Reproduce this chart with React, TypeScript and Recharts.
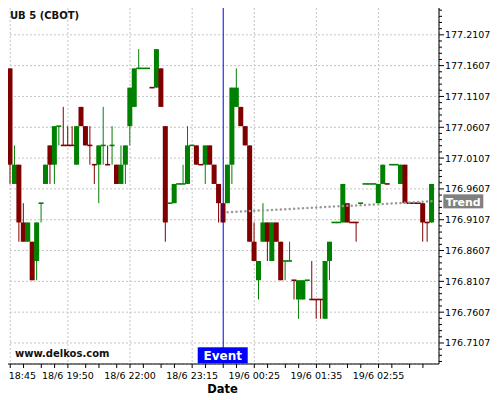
import React from 'react';
import { ComposedChart, Bar, Line, XAxis, YAxis, CartesianGrid, ReferenceLine } from 'recharts';

const opens = [
  177.15625, 176.96875, 177, 176.90625, 176.875, 176.875, 176.84375, 176.9375, 176.96875, 177.03125,
  177, 177.0625, 177.03125, 177.03125, 177.03125, 177, 177.09375, 177.0625, 177.03125, 177,
  177, 177.03125, 177, 177.03125, 177, 176.96875, 177, 177.0625, 177.09375, 177.15625,
  177.15625, 177.15625, 177.125, 177.125, 177.15625, 177.0625, 176.9375, 176.9375, 176.96875, 176.96875,
  176.96875, 177.03125, 177.03125, 177, 177, 177.03125, 177, 176.96875, 176.9375, 176.9375,
  177, 177.09375, 177.09375, 177.0625, 177.03125, 176.875, 176.8125, 176.875, 176.90625, 176.84375,
  176.90625, 176.875, 176.84375, 176.84375, 176.8125, 176.78125, 176.78125, 176.8125, 176.78125, 176.78125,
  176.78125, 176.75, 176.84375, 176.90625, 176.90625, 176.90625, 176.9375, 176.90625, 176.90625, 176.9375,
  176.96875, 176.96875, 176.96875, 176.9375, 176.96875, 176.96875, 177, 177, 176.96875, 177,
  176.9375, 176.9375, 176.9375, 176.9375, 176.90625, 176.90625,
];

const highs = [
  177.15625, 177.03125, 177, 176.9375, 176.90625, 176.875, 176.90625, 176.9375, 177, 177.03125,
  177.0625, 177.0625, 177.09375, 177.0625, 177.0625, 177.0625, 177.09375, 177.0625, 177.0625, 177,
  177.03125, 177.09375, 177.03125, 177.0625, 177, 177.03125, 177.03125, 177.125, 177.15625, 177.1875,
  177.15625, 177.15625, 177.125, 177.1875, 177.15625, 177.0625, 176.9375, 176.96875, 176.96875, 177,
  177.0625, 177.03125, 177.03125, 177, 177.03125, 177.03125, 177, 176.96875, 176.9375, 177,
  177.125, 177.15625, 177.09375, 177.0625, 177.03125, 176.90625, 176.84375, 176.9375, 176.90625, 176.90625,
  176.90625, 176.875, 176.84375, 176.875, 176.8125, 176.8125, 176.8125, 176.8125, 176.84375, 176.78125,
  176.78125, 176.84375, 176.875, 176.90625, 176.90625, 176.96875, 176.9375, 176.90625, 176.90625, 176.9375,
  176.96875, 176.96875, 176.96875, 176.96875, 177, 176.96875, 177, 177, 177, 177,
  176.9375, 176.9375, 176.9375, 176.9375, 176.90625, 176.96875,
];

const lows = [
  176.96875, 176.96875, 176.875, 176.875, 176.875, 176.8125, 176.8125, 176.90625, 176.96875, 176.96875,
  176.96875, 177.03125, 177.03125, 177.03125, 177.03125, 177, 177.0625, 177.03125, 177, 176.96875,
  176.9375, 177, 177, 177, 176.96875, 176.96875, 176.96875, 177.03125, 177.09375, 177.15625,
  177.15625, 177.15625, 177.125, 177.125, 177.09375, 176.875, 176.9375, 176.9375, 176.96875, 176.96875,
  176.96875, 177.03125, 177, 177, 176.96875, 177, 176.96875, 176.90625, 176.90625, 176.9375,
  176.96875, 177.09375, 177.0625, 177.03125, 176.875, 176.84375, 176.78125, 176.875, 176.84375, 176.84375,
  176.875, 176.8125, 176.8125, 176.84375, 176.78125, 176.75, 176.78125, 176.8125, 176.78125, 176.75,
  176.75, 176.75, 176.8125, 176.90625, 176.90625, 176.90625, 176.90625, 176.90625, 176.875, 176.9375,
  176.96875, 176.96875, 176.96875, 176.9375, 176.96875, 176.96875, 177, 177, 176.96875, 176.9375,
  176.9375, 176.9375, 176.9375, 176.875, 176.875, 176.90625,
];

const closes = [
  177, 177, 176.90625, 176.875, 176.90625, 176.8125, 176.90625, 176.9375, 177, 177,
  177.0625, 177.0625, 177.03125, 177.03125, 177.03125, 177.0625, 177.0625, 177.03125, 177.03125, 177,
  177.03125, 177.03125, 177, 177.03125, 176.96875, 177, 177.03125, 177.125, 177.15625, 177.15625,
  177.15625, 177.15625, 177.125, 177.1875, 177.09375, 176.90625, 176.9375, 176.96875, 176.96875, 176.96875,
  177.03125, 177.03125, 177, 177, 177.03125, 177, 176.96875, 176.9375, 176.90625, 177,
  177.125, 177.125, 177.0625, 177.03125, 176.875, 176.84375, 176.84375, 176.90625, 176.875, 176.90625,
  176.875, 176.8125, 176.84375, 176.84375, 176.8125, 176.8125, 176.8125, 176.8125, 176.78125, 176.78125,
  176.78125, 176.84375, 176.875, 176.90625, 176.90625, 176.96875, 176.90625, 176.90625, 176.90625, 176.9375,
  176.96875, 176.96875, 176.96875, 176.96875, 177, 176.96875, 177, 177, 177, 176.9375,
  176.9375, 176.9375, 176.9375, 176.90625, 176.90625, 176.96875,
];

const xLabelIdx = [0, 13, 27, 41, 55, 69, 83];
const xLabels = ['18/6 18:45', '18/6 19:50', '18/6 22:00', '18/6 23:15', '19/6 00:25', '19/6 01:35', '19/6 02:55'];
const xMinorIdx = [3, 7, 10, 17, 20, 24, 30, 34, 37, 44, 48, 51, 58, 62, 65, 72, 76, 79, 86, 90, 93];

const yMajor = [
  176.7107, 176.7607, 176.8107, 176.8607, 176.9107, 176.9607,
  177.0107, 177.0607, 177.1107, 177.1607, 177.2107, 177.2607,
];
const yDomain = [176.6766, 177.2607];

const eventIdx = 48;
const trendIdx = [49, 95];
const trendVals = [176.9228, 176.9405];

const title = 'UB 5 (CBOT)';
const source = 'www.delkos.com';
const xTitle = 'Date';
const eventText = 'Event';
const trendText = 'Trend';

const UP = '#008000';
const DOWN = '#800000';
const FONT = 'DejaVu Sans';

const yMinor = Array.from({ length: 59 }, (_, k) => Number((176.6807 + k * 0.01).toFixed(4)));
const xAllTicks = [...xLabelIdx, ...xMinorIdx].sort((a, b) => a - b);

let prevColor = DOWN;
const data = opens.map((o, i) => {
  const c = closes[i];
  let color;
  if (c > o) color = UP;
  else if (c < o) color = DOWN;
  else if (i > 0 && c > closes[i - 1]) color = UP;
  else if (i > 0 && c < closes[i - 1]) color = DOWN;
  else color = prevColor;
  prevColor = color;
  const ti = trendIdx.indexOf(i);
  return {
    i,
    open: o,
    high: highs[i],
    low: lows[i],
    close: c,
    color,
    trend: ti >= 0 ? trendVals[ti] : null,
  };
});

const Candle = (props: any) => {
  const { x, y, width, height, payload } = props;
  if (!payload || x == null || y == null) return null;
  const { open, close, high, low, color } = payload;
  const cx = x + width / 2;
  const span = high - low;
  const pos = (v: number) => (span === 0 ? y : y + ((high - v) / span) * height);
  const top = pos(Math.max(open, close));
  const bot = pos(Math.min(open, close));
  let bh = bot - top;
  let by = top;
  if (bh < 1.6) {
    by = top - 0.8;
    bh = 1.6;
  }
  return (
    <g>
      <line x1={cx} x2={cx} y1={y} y2={y + height} stroke={color} strokeWidth={1} />
      <rect x={cx - 2.5} y={by} width={5} height={bh} fill={color} />
    </g>
  );
};

const XTick = (props: any) => {
  const { x, y, payload } = props;
  const k = xLabelIdx.indexOf(payload.value);
  if (k < 0) return null;
  return (
    <text x={x} y={y} dy={11.3} textAnchor="middle" fontSize={9.5} fontFamily={FONT} fill="#000">
      {xLabels[k]}
    </text>
  );
};

const YTick = (props: any) => {
  const { x, y, payload } = props;
  const v = payload.value;
  const major = yMajor.some((m) => Math.abs(m - v) < 1e-6);
  return (
    <g>
      <line x1={x} x2={x + (major ? 5 : 3)} y1={y} y2={y} stroke="#000" strokeWidth={1} />
      {major && (
        <text x={x + 6} y={y} dy="0.36em" textAnchor="start" fontSize={9.5} fontFamily={FONT} fill="#000">
          {v.toFixed(4)}
        </text>
      )}
    </g>
  );
};

const EventTag = (props: any) => {
  const vb = props.viewBox || {};
  const cx = vb.x;
  const bottom = vb.y + vb.height;
  return (
    <g>
      <rect x={cx - 25.5} y={bottom - 16.7} width={50} height={16} fill="#0000ff" />
      <text x={cx - 0.5} y={bottom - 3.8} textAnchor="middle" fontSize={12} fontWeight="bold" fontFamily={FONT} fill="#fff">
        {eventText}
      </text>
    </g>
  );
};

const TrendTag = (props: any) => {
  const vb = props.viewBox || {};
  const left = vb.x + vb.width + 4.3;
  return (
    <g>
      <rect x={left} y={vb.y - 7} width={40} height={14} fill="#808080" />
      <text x={left + 20} y={vb.y + 4.6} textAnchor="middle" fontSize={11} fontWeight="bold" fontFamily={FONT} fill="#fff">
        {trendText}
      </text>
    </g>
  );
};

export default function App() {
  return (
    <div style={{ position: 'relative', width: 500, height: 400, margin: '-8px 0 0 -8px', fontFamily: FONT, background: '#fff' }}>
      <ComposedChart
        width={500}
        height={400}
        data={data}
        margin={{ top: 4, right: 0, bottom: 0, left: 6 }}
        barCategoryGap={0}
        barGap={0}
      >
        <XAxis
          xAxisId="g"
          dataKey="i"
          type="category"
          ticks={xLabelIdx}
          interval={0}
          hide
          padding={{ left: 2, right: 5 }}
        />
        <YAxis yAxisId="g" orientation="right" type="number" hide domain={yDomain} ticks={yMajor} allowDataOverflow />
        <CartesianGrid xAxisId="g" yAxisId="g" stroke="#c4c4c4" strokeDasharray="2 2" />
        <XAxis
          dataKey="i"
          type="category"
          ticks={xAllTicks}
          interval={0}
          tick={<XTick />}
          tickSize={4}
          tickMargin={0}
          height={36}
          padding={{ left: 2, right: 5 }}
          axisLine={{ stroke: '#000' }}
          tickLine={{ stroke: '#000' }}
          label={{ value: xTitle, position: 'insideBottom', offset: 6.7, fontSize: 11.5, fontWeight: 'bold', fontFamily: FONT, fill: '#000' }}
        />
        <YAxis
          orientation="right"
          type="number"
          width={61}
          domain={yDomain}
          ticks={yMinor}
          interval={0}
          allowDataOverflow
          tick={<YTick />}
          tickLine={false}
          tickSize={0}
          tickMargin={0}
          axisLine={{ stroke: '#000' }}
        />
        <Bar dataKey={(d: any) => [d.low, d.high]} shape={(p: any) => <Candle {...p} />} isAnimationActive={false} />
        <Line
          dataKey="trend"
          connectNulls
          stroke="#999999"
          strokeWidth={2.5}
          strokeDasharray="0 4.4375"
          strokeLinecap="round"
          dot={false}
          activeDot={false}
          isAnimationActive={false}
        />
        <ReferenceLine y={trendVals[1]} stroke="none" label={<TrendTag />} />
        <ReferenceLine x={eventIdx} stroke="#0000ff" strokeWidth={1} label={<EventTag />} />
      </ComposedChart>
      <svg width={500} height={400} style={{ position: 'absolute', left: 0, top: 0, pointerEvents: 'none' }}>
        <text x={10} y={19.3} fontSize={10} fontWeight="bold" fontFamily={FONT} fill="#111">
          {title}
        </text>
        <text x={15} y={357} fontSize={10} fontWeight="bold" fontFamily={FONT} fill="#111">
          {source}
        </text>
      </svg>
    </div>
  );
}
